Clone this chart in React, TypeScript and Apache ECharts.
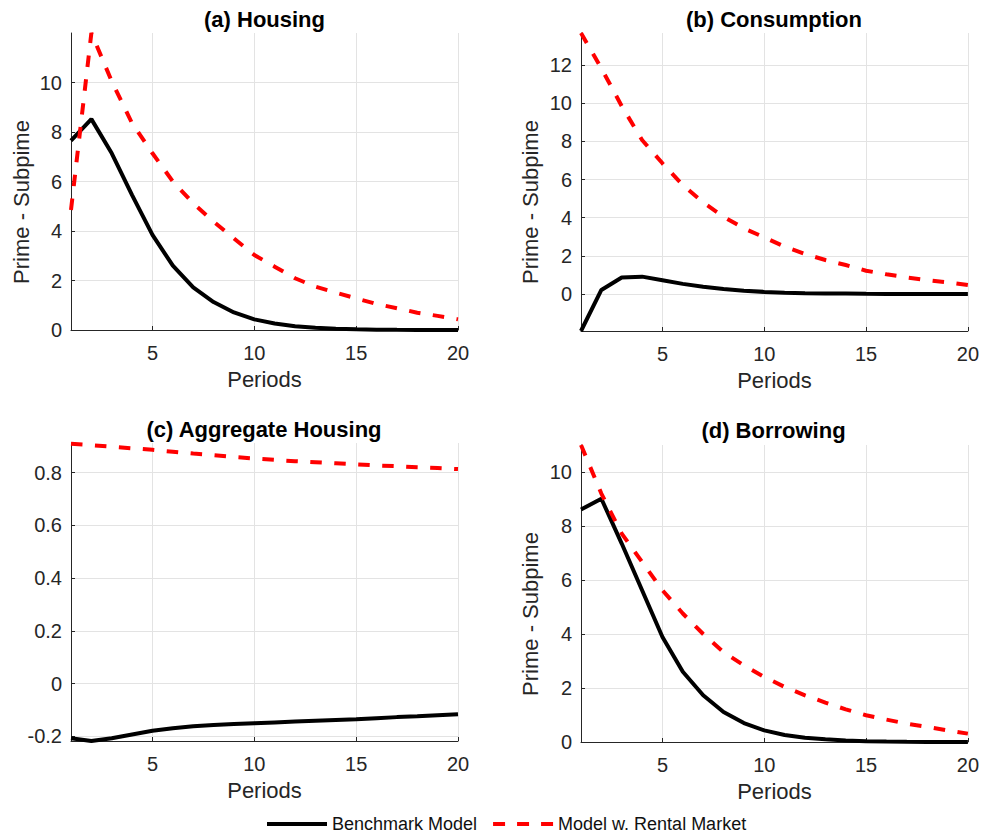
import React, { useEffect, useRef } from 'react';
import * as echarts from 'echarts';

const periods = [1, 2, 3, 4, 5, 6, 7, 8, 9, 10, 11, 12, 13, 14, 15, 16, 17, 18, 19, 20];

const housingBenchmark = [7.65, 8.52, 7.14, 5.45, 3.84, 2.6, 1.72, 1.13, 0.71, 0.43, 0.26, 0.15, 0.09, 0.05, 0.03, 0.015, 0.007, 0.003, 0.001, 0];
const housingRental = [4.85, 12.0, 10.05, 8.35, 7.14, 6.0, 5.12, 4.38, 3.7, 3.03, 2.56, 2.09, 1.75, 1.51, 1.28, 1.05, 0.88, 0.7, 0.57, 0.43];

const consumptionBenchmark = [-1.94, 0.21, 0.86, 0.91, 0.72, 0.53, 0.38, 0.26, 0.17, 0.11, 0.07, 0.045, 0.03, 0.02, 0.01, 0.005, 0, 0, 0, 0];
const consumptionRental = [13.68, 11.83, 9.85, 8.07, 6.85, 5.71, 4.8, 4.05, 3.44, 2.97, 2.48, 2.1, 1.78, 1.52, 1.22, 1.03, 0.87, 0.73, 0.61, 0.47];

const aggHousingBenchmark = [-0.207, -0.2175, -0.207, -0.193, -0.179, -0.169, -0.162, -0.157, -0.153, -0.15, -0.147, -0.144, -0.141, -0.138, -0.135, -0.131, -0.127, -0.124, -0.12, -0.116];
const aggHousingRental = [0.909, 0.904, 0.898, 0.892, 0.886, 0.879, 0.872, 0.866, 0.859, 0.853, 0.848, 0.843, 0.839, 0.835, 0.831, 0.827, 0.824, 0.82, 0.817, 0.813];

const borrowingBenchmark = [8.61, 9.01, 7.35, 5.62, 3.89, 2.6, 1.73, 1.11, 0.7, 0.43, 0.26, 0.16, 0.1, 0.06, 0.03, 0.015, 0.007, 0.003, 0.001, 0];
const borrowingRental = [11.0, 9.2, 7.72, 6.67, 5.62, 4.76, 4.0, 3.33, 2.84, 2.41, 2.04, 1.73, 1.46, 1.21, 0.99, 0.83, 0.68, 0.56, 0.43, 0.31];

const xTicks = [5, 10, 15, 20];
const yTicksA = [0, 2, 4, 6, 8, 10];
const yTicksB = [0, 2, 4, 6, 8, 10, 12];
const yTicksC = [-0.2, 0, 0.2, 0.4, 0.6, 0.8];
const yTicksD = [0, 2, 4, 6, 8, 10];

const titles = ['(a) Housing', '(b) Consumption', '(c) Aggregate Housing', '(d) Borrowing'];
const yLabel = 'Prime - Subpime';
const xLabel = 'Periods';
const seriesNames = ['Benchmark Model', 'Model w. Rental Market'];

const FONT = '"Liberation Sans", Arial, Helvetica, sans-serif';
const AXIS_COLOR = '#262626';
const GRID_COLOR = '#e3e3e3';

export default function App() {
  const ref = useRef<HTMLDivElement>(null);

  useEffect(() => {
    if (!ref.current) return;
    const chart = echarts.init(ref.current, null, { renderer: 'svg' });

    const panels = [
      { grid: { left: 71, top: 33, width: 387, height: 297 }, min: 0, max: 12, yTicks: yTicksA, bench: housingBenchmark, rental: housingRental, title: [264.5, 19] },
      { grid: { left: 581, top: 33, width: 387, height: 298 }, min: -1.94, max: 13.68, yTicks: yTicksB, bench: consumptionBenchmark, rental: consumptionRental, title: [774, 19] },
      { grid: { left: 71, top: 443, width: 387, height: 298 }, min: -0.2175, max: 0.912, yTicks: yTicksC, bench: aggHousingBenchmark, rental: aggHousingRental, title: [264, 429] },
      { grid: { left: 581, top: 445, width: 387, height: 297 }, min: 0, max: 11, yTicks: yTicksD, bench: borrowingBenchmark, rental: borrowingRental, title: [773.5, 430] },
    ];

    const yLabelPos = [[21, 202], [530.5, 202], null, [530.5, 614]];

    const option: any = {
      animation: false,
      backgroundColor: '#ffffff',
      textStyle: { fontFamily: FONT },
      grid: panels.map((p) => ({ ...p.grid, containLabel: false })),
      xAxis: panels.map((p, i) => ({
        type: 'value',
        gridIndex: i,
        min: 1,
        max: 20,
        name: xLabel,
        nameLocation: 'middle',
        nameGap: 38,
        nameTextStyle: { fontSize: 22, color: AXIS_COLOR, fontFamily: FONT },
        axisLine: { show: true, onZero: false, lineStyle: { color: AXIS_COLOR, width: 1 } },
        axisTick: { show: true, inside: true, length: 4, customValues: xTicks, lineStyle: { color: AXIS_COLOR } },
        axisLabel: { customValues: xTicks, margin: 13, fontSize: 20, color: AXIS_COLOR, fontFamily: FONT },
        splitLine: { show: true, lineStyle: { color: GRID_COLOR, width: 1 } },
      })),
      yAxis: panels.map((p, i) => ({
        type: 'value',
        gridIndex: i,
        min: p.min,
        max: p.max,
        axisLine: { show: true, onZero: false, lineStyle: { color: AXIS_COLOR, width: 1 } },
        axisTick: { show: true, inside: true, length: 4, customValues: p.yTicks, lineStyle: { color: AXIS_COLOR } },
        axisLabel: { customValues: p.yTicks, margin: 9, fontSize: 20, color: AXIS_COLOR, fontFamily: FONT },
        splitLine: { show: true, lineStyle: { color: GRID_COLOR, width: 1 } },
      })),
      legend: {
        left: 265,
        top: 815,
        padding: 0,
        itemWidth: 60,
        itemHeight: 18,
        itemGap: 14,
        itemStyle: { opacity: 0 },
        lineStyle: { width: 4 },
        textStyle: { fontSize: 18, color: '#111111', fontFamily: FONT },
        data: [
          { name: seriesNames[0] },
          { name: seriesNames[1], lineStyle: { width: 4, type: [12, 12] } },
        ],
      },
      series: panels.flatMap((p, i) => [
        {
          name: seriesNames[0],
          type: 'line',
          xAxisIndex: i,
          yAxisIndex: i,
          data: periods.map((x, k) => [x, p.bench[k]]),
          symbol: 'none',
          showSymbol: false,
          clip: false,
          z: 3,
          lineStyle: { color: '#000000', width: 4, type: 'solid' },
          itemStyle: { color: '#000000' },
        },
        {
          name: seriesNames[1],
          type: 'line',
          xAxisIndex: i,
          yAxisIndex: i,
          data: periods.map((x, k) => [x, p.rental[k]]),
          symbol: 'none',
          showSymbol: false,
          clip: false,
          z: 4,
          lineStyle: { color: '#ff0000', width: 4, type: [11.5, 12.5] },
          itemStyle: { color: '#ff0000' },
        },
      ]),
      graphic: [
        ...panels.map((p, i) => ({
          type: 'text',
          x: p.title[0],
          y: p.title[1],
          style: {
            text: titles[i],
            fontSize: 22,
            fontWeight: 'bold',
            fontFamily: FONT,
            fill: '#000000',
            textAlign: 'center',
            textVerticalAlign: 'middle',
            align: 'center',
            verticalAlign: 'middle',
          },
        })),
        ...yLabelPos
          .filter((pos) => pos !== null)
          .map((pos: any) => ({
            type: 'text',
            x: pos[0],
            y: pos[1],
            rotation: Math.PI / 2,
            style: {
              text: yLabel,
              fontSize: 22,
              fontFamily: FONT,
              fill: AXIS_COLOR,
              textAlign: 'center',
              textVerticalAlign: 'middle',
              align: 'center',
              verticalAlign: 'middle',
            },
          })),
      ],
    };

    chart.setOption(option);
    return () => chart.dispose();
  }, []);

  return (
    <div
      ref={ref}
      style={{ position: 'absolute', left: 0, top: 0, width: 982, height: 838 }}
    />
  );
}
